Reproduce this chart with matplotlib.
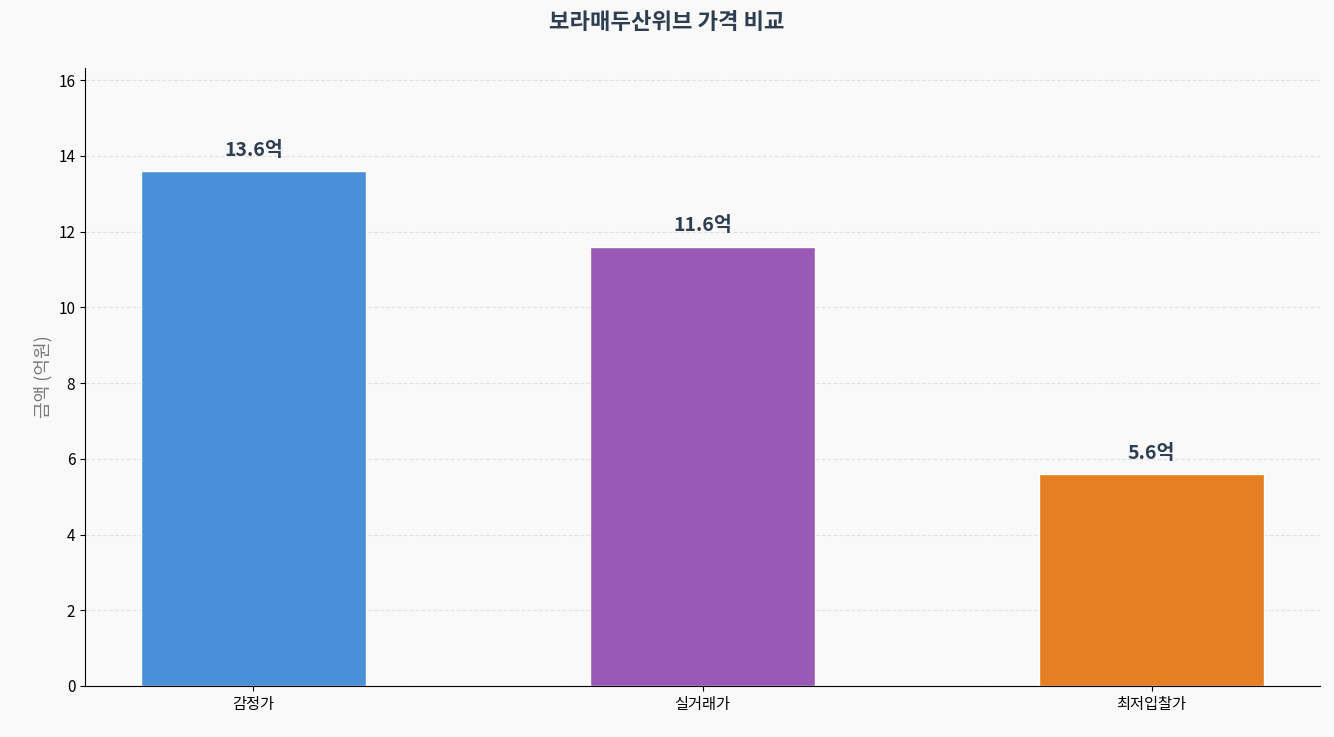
import matplotlib
matplotlib.use("Agg")
import matplotlib.pyplot as plt

plt.rcParams['font.family'] = ['Noto Sans CJK KR', 'DejaVu Sans']

categories = ['감정가', '실거래가', '최저입찰가']
values = [13.6, 11.6, 5.6]
labels = ['13.6억', '11.6억', '5.6억']
colors = ['#4a90d9', '#9b59b6', '#e67e22']

fig = plt.figure(figsize=(13.34, 7.37), dpi=100, facecolor='#f9f9f9')
ax = fig.add_axes([85/1334, 1-686/737, (1320-85)/1334, (686-68)/737])
ax.set_facecolor('#f9f9f9')
bars = ax.bar(categories, values, width=0.5, color=colors, edgecolor='white', linewidth=1)
for b, l in zip(bars, labels):
    ax.text(b.get_x()+b.get_width()/2, b.get_height()+0.3, l, ha='center', va='bottom',
            fontsize=14, fontweight='bold', color='#2c3e50')
ax.set_ylim(0, max(values)*1.2)
ax.set_yticks(range(0, 17, 2))
ax.yaxis.grid(True, linestyle='--', color='#dddddd', alpha=0.8)
ax.set_axisbelow(True)
for s in ['top', 'right']:
    ax.spines[s].set_visible(False)
ax.tick_params(labelsize=11)
ax.set_ylabel('금액 (억원)', fontsize=13, color='#777777')
fig.suptitle('보라매두산위브 가격 비교', fontsize=16, fontweight='bold', color='#2c3e50', y=0.985)
fig.savefig('out.png', dpi=100, facecolor=fig.get_facecolor())
